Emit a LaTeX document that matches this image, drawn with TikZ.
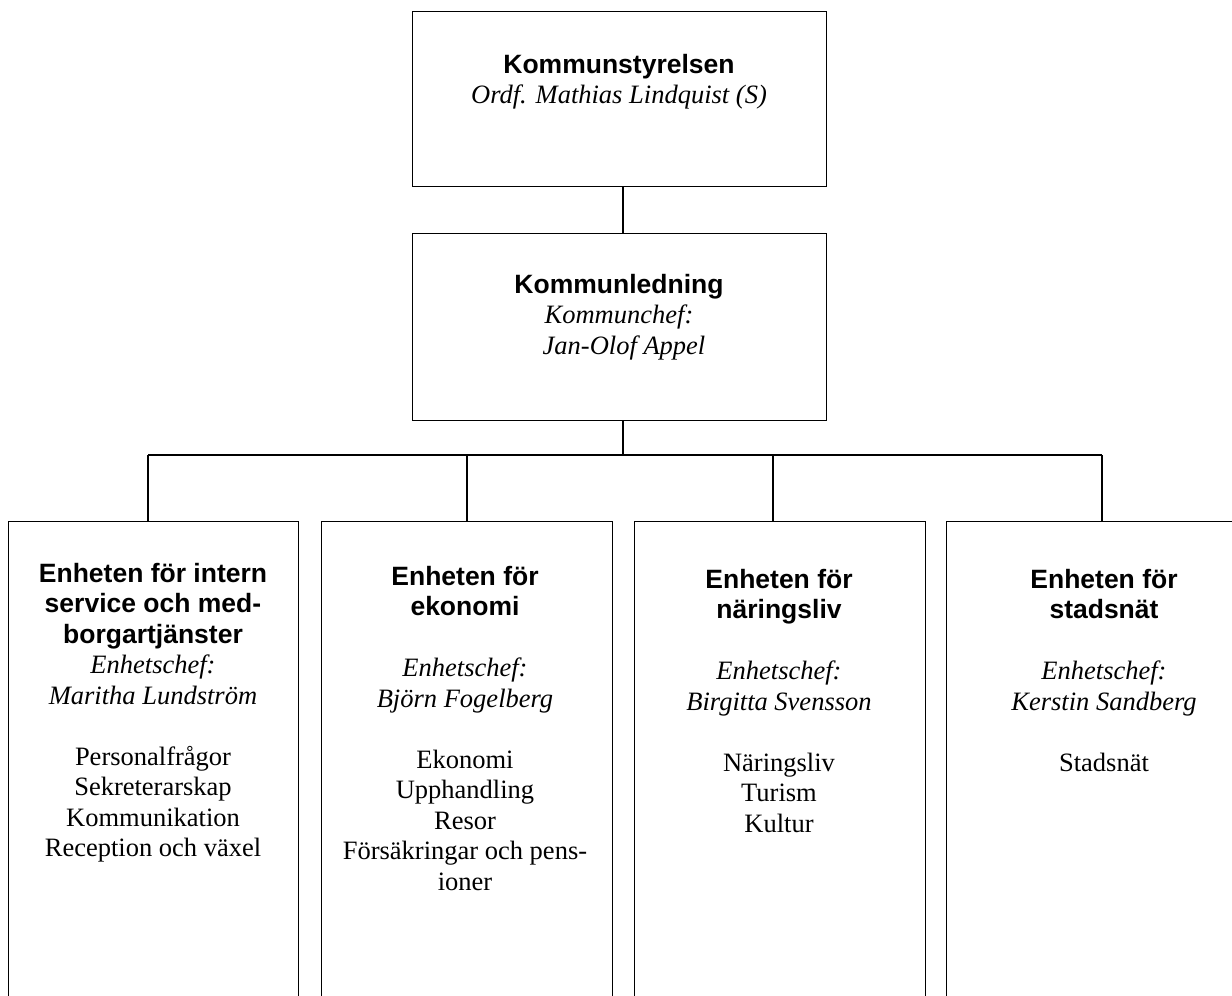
\documentclass[tikz,border=0pt]{standalone}
\usepackage{fontspec}
\setmainfont{Liberation Serif}
\newfontfamily\arialfont{Liberation Sans}
\newcommand\hd[1]{{\arialfont\bfseries #1}}
\newcommand\nm[1]{{\itshape #1}}
\begin{document}
\begin{tikzpicture}[x=1pt,y=-1pt,
  box/.style={draw, line width=1.4pt, inner sep=0pt, anchor=north west},
  conn/.style={line width=1.4pt},
  txt/.style={anchor=north, inner sep=0pt, align=center, font=\fontsize{26.5pt}{30.5pt}\selectfont}]
\useasboundingbox (0,0) rectangle (1232,996);
\fill[white] (0,0) rectangle (1232,996);
\clip (0,0) rectangle (1232,996);
% boxes
\node[box, minimum width=414pt, minimum height=175pt] (ks) at (412,11) {};
\node[box, minimum width=414pt, minimum height=187pt] (kl) at (412,233) {};
\node[box, minimum width=290pt, minimum height=600pt] (e1) at (8,521) {};
\node[box, minimum width=291pt, minimum height=600pt] (e2) at (321,521) {};
\node[box, minimum width=291pt, minimum height=600pt] (e3) at (634,521) {};
\node[box, minimum width=316pt, minimum height=600pt] (e4) at (946,521) {};
% texts
\node[txt] (ks-t) at (619,54) {\hd{Kommunstyrelsen}\\ \nm{Ordf. Mathias Lindquist (S)}};
\node[txt] (kl-t) at (619,274) {\hd{Kommunledning}\\ \nm{Kommunchef:}\\ \hspace*{10pt}\nm{Jan-Olof Appel}};
\node[txt] (e1-t) at (153,563) {\hd{Enheten för intern}\\ \hd{service och med-}\\ \hd{borgartjänster}\\
  \nm{Enhetschef:}\\ \nm{Maritha Lundström}\\[30.5pt]
  Personalfrågor\\ Sekreterarskap\\ Kommunikation\\ Reception och växel};
\node[txt] (e2-t) at (465,566) {\hd{Enheten för}\\ \hd{ekonomi}\\[30.5pt]
  \nm{Enhetschef:}\\ \nm{Björn Fogelberg}\\[30.5pt]
  Ekonomi\\ Upphandling\\ Resor\\ Försäkringar och pens-\\ ioner};
\node[txt] (e3-t) at (779,569) {\hd{Enheten för}\\ \hd{näringsliv}\\[30.5pt]
  \nm{Enhetschef:}\\ \nm{Birgitta Svensson}\\[30.5pt]
  Näringsliv\\ Turism\\ Kultur};
\node[txt] (e4-t) at (1104,569) {\hd{Enheten för}\\ \hd{stadsnät}\\[30.5pt]
  \nm{Enhetschef:}\\ \nm{Kerstin Sandberg}\\[30.5pt]
  Stadsnät};
% connectors
\coordinate (j) at (623,455);
\coordinate (c1) at (148,455);
\coordinate (c2) at (467,455);
\coordinate (c3) at (773,455);
\coordinate (c4) at (1102,455);
\draw[conn] (j |- ks.south) -- (j |- kl.north);
\draw[conn] (j |- kl.south) -- (j);
\draw[conn] (c1) -- (c4);
\draw[conn] (c1) -- (c1 |- e1.north);
\draw[conn] (c2) -- (c2 |- e2.north);
\draw[conn] (c3) -- (c3 |- e3.north);
\draw[conn] (c4) -- (c4 |- e4.north);
\end{tikzpicture}
\end{document}
